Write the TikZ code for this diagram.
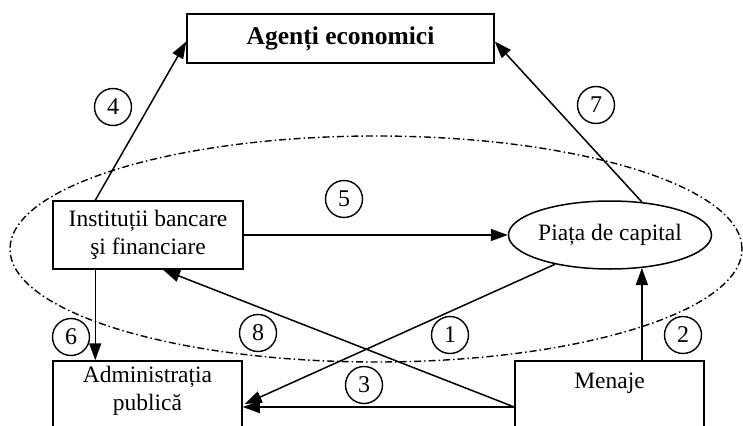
\documentclass[tikz,border=0pt]{standalone}
\usepackage{fontspec}
\setmainfont{Liberation Serif}
\usetikzlibrary{shapes.geometric,arrows.meta,calc}
\begin{document}
\begin{tikzpicture}[x=1pt,y=-1pt,
  txt/.style={font=\fontsize{23.5}{28}\selectfont},
  box/.style={draw,line width=1.5pt,rectangle,inner sep=0pt},
  oval/.style={draw,line width=1.5pt,ellipse,inner sep=0pt,minimum width=190,minimum height=68},
  num/.style={draw,line width=1.4pt,circle,inner sep=0pt,minimum size=37,font=\fontsize{24}{24}\selectfont},
  arr/.style={line width=1.5pt,-{Triangle[length=17pt,width=12pt]}},
  group/.style={draw,ellipse,inner sep=0pt,line width=1.4pt,
    dash pattern=on 7pt off 3pt on 1.5pt off 3pt}]
\useasboundingbox (0,0) rectangle (743,425);
\clip (0,0) rectangle (743,425);

% grouping of the financial market
\node[group,minimum width=732,minimum height=226] (grp) at (376,249) {};

% main actors
\node[box,minimum width=307,minimum height=49,font=\fontsize{25.5}{28}\selectfont\bfseries] (ag) at (340.5,38.5) {Agenți economici};
\node[box,minimum width=190,minimum height=68,txt,align=center] (inst) at (148,235) {Instituții bancare\\şi financiare};
\node[oval,txt] (piata) at (610,235) {Piața de capital};
\node[box,minimum width=189,minimum height=92] (adm) at (147.5,407) {};
\node[txt,align=center,anchor=north,inner sep=0pt] (admtxt) at ($(adm.north)+(0,6)$) {Administrația\\publică};
\node[box,minimum width=189,minimum height=92] (men) at (609.5,407) {};
\node[txt,anchor=north,inner sep=0pt] (mentxt) at ($(men.north)+(0,12)$) {Menaje};

% flows
\coordinate (c4) at ($(inst.north west)+(43,0)$);
\coordinate (c6) at ($(inst.south west)+(43,0)$);
\draw[arr] (c4) -- ([yshift=-3pt]ag.west);
\draw[arr] (piata.46) -- ([yshift=-3pt]ag.east);
\draw[arr] (inst.east) -- (piata.west);
\draw[arr] (c6) -- (c6 |- adm.north);
\draw[arr] (men.north -| piata.-46) -- (piata.-46);
\draw[arr] (men.west) -- (adm.east);
\draw[arr] (men.west) -- ([xshift=15pt]inst.south);
\draw[arr] (piata.208) -- ([yshift=3pt,xshift=2pt]adm.east);

% flow numbers
\node[num] (n1) at (450,335) {1};
\node[num] (n2) at (683,335) {2};
\node[num] (n3) at (364,385) {3};
\node[num] (n4) at (113,107) {4};
\node[num] (n5) at (344,199) {5};
\node[num] (n6) at (71,337) {6};
\node[num] (n7) at (596,105) {7};
\node[num] (n8) at (258,333) {8};
\end{tikzpicture}
\end{document}
